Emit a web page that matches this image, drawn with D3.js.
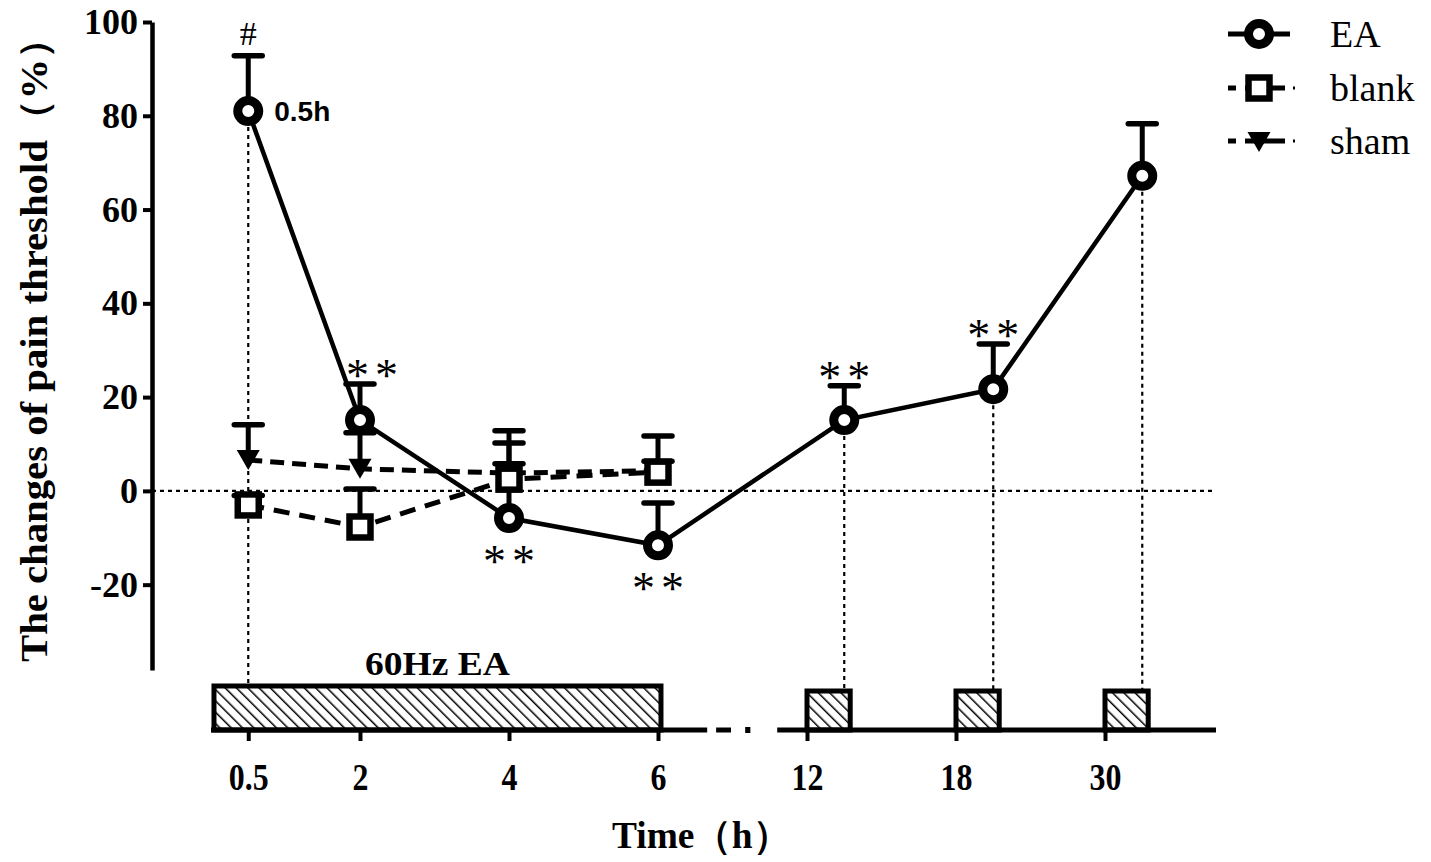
<!DOCTYPE html>
<html><head><meta charset="utf-8">
<script src="https://cdn.jsdelivr.net/npm/d3@7"></script>
<style>body{margin:0;background:#fff}svg{display:block}</style>
</head><body>
<svg id="c" width="1431" height="862"></svg>
<script>
// ---- data ----
const categories = ["0.5","2","4","6","12","18","30"];
const eaMean  = [81.0, 15.1, -5.8, -11.6, 15.1, 21.7, 67.2];
const eaErr   = [11.8,  7.7, 16.0,   9.0,  7.3,  9.6, 11.1];
const blankCats = ["0.5","2","4","6"];
const blankMean = [-3.0, -7.7, 2.5, 4.0];
const blankErr  = [ 2.0,  8.1, 10.3, 7.7];
const shamCats = ["0.5","2","4","6"];
const shamMean = [6.6, 4.7, 3.8, 4.3];
const shamErr  = [7.5, 7.7, 2.0, 2.0];
const yTicks = [-20, 0, 20, 40, 60, 80, 100];
const sigCats  = ["0.5","2","4","6","12","18"];
const sigText  = ["#","**","**","**","**","**"];
const sigBelow = [false,false,true,true,false,false];
const dropCats = ["0.5","12","18","30"];
const stimLabel = "60Hz EA";
const seriesNames = ["EA","blank","sham"];

// ---- scales ----
const svg = d3.select("#c");
const y = d3.scaleLinear().domain([-38.2, 100]).range([670, 22]);
const xs = d3.scaleLinear().domain([0, 6]).range([211, 1105]);
const late = ["12","18","30"];
const tickSlot = c => (+c <= 6 ? +c / 2 : 4 + late.indexOf(c));
const pointSlot = c => (+c <= 6 ? tickSlot(c) : tickSlot(c) + 0.25);
const px = c => xs(pointSlot(c));
const axisY = 730;
const serif = "'Liberation Serif','Times New Roman',serif";

// hatch pattern
const defs = svg.append("defs");
const pat = defs.append("pattern").attr("id","hatch").attr("patternUnits","userSpaceOnUse")
  .attr("width",8).attr("height",8).attr("patternTransform","rotate(-45)");
pat.append("rect").attr("width",8).attr("height",8).attr("fill","#fff");
pat.append("line").attr("x1",0).attr("y1",0).attr("x2",0).attr("y2",8)
  .attr("stroke","#000").attr("stroke-width",3);

// zero line
svg.append("line").attr("x1",152).attr("x2",1216).attr("y1",y(0)).attr("y2",y(0))
  .attr("stroke","#000").attr("stroke-width",2.2).attr("stroke-dasharray","4,4");

// drop lines
svg.selectAll(".drop").data(dropCats).join("line")
  .attr("x1",c=>px(c)).attr("x2",c=>px(c))
  .attr("y1",c=>y(eaMean[categories.indexOf(c)])).attr("y2",axisY)
  .attr("stroke","#000").attr("stroke-width",2.2).attr("stroke-dasharray","4,4");

// stimulation boxes
const stim = [[0.02,3.02],[4,4.29],[5,5.29],[6,6.29]];
svg.selectAll(".stim").data(stim).join("rect")
  .attr("x",d=>xs(d[0])).attr("width",d=>xs(d[1])-xs(d[0]))
  .attr("y",(d,i)=> i===0 ? 686 : 691).attr("height",(d,i)=> axisY-(i===0?686:691))
  .attr("fill","url(#hatch)").attr("stroke","#000").attr("stroke-width",5);
svg.append("text").attr("x",(xs(0)+xs(3))/2+3).attr("y",675).attr("text-anchor","middle")
  .attr("font-family",serif).attr("font-weight","bold").attr("font-size",33)
  .attr("textLength",145).attr("lengthAdjust","spacingAndGlyphs").text(stimLabel);

// x axis baseline with break
const base = svg.append("g").attr("stroke","#000").attr("stroke-width",5);
base.append("line").attr("x1",xs(0)).attr("x2",xs(3.33)).attr("y1",axisY).attr("y2",axisY);
base.append("line").attr("x1",xs(3.39)).attr("x2",xs(3.49)).attr("y1",axisY).attr("y2",axisY);
base.append("line").attr("x1",xs(3.585)).attr("x2",xs(3.62)).attr("y1",axisY).attr("y2",axisY).attr("stroke-width",6);
base.append("line").attr("x1",xs(3.8)).attr("x2",1216).attr("y1",axisY).attr("y2",axisY);

const xAxis = d3.axisBottom(xs).tickValues(categories.map(tickSlot))
  .tickFormat((d,i)=>categories[i]).tickSize(11).tickPadding(24);
const gx = svg.append("g").attr("transform",`translate(0,${axisY})`).call(xAxis);
gx.select(".domain").remove();
gx.selectAll("line").attr("stroke","#000").attr("stroke-width",4);
gx.selectAll("text").attr("font-family",serif).attr("font-weight","bold").attr("font-size",38)
  .attr("fill","#000").attr("transform","scale(0.84,1)").attr("dy","0.66em");

// y axis
const yAxis = d3.axisLeft(y).tickValues(yTicks).tickSize(9).tickSizeOuter(0).tickPadding(5)
  .tickFormat(d => String(d));
const gy = svg.append("g").attr("transform","translate(152,0)").call(yAxis);
gy.select(".domain").attr("stroke","#000").attr("stroke-width",4.5);
gy.selectAll(".tick line").attr("stroke","#000").attr("stroke-width",4);
gy.selectAll("text").attr("font-family",serif).attr("font-weight","bold").attr("font-size",36).attr("fill","#000");

// titles
svg.append("text").attr("transform","translate(47,340) rotate(-90)").attr("text-anchor","middle")
  .attr("font-family",serif).attr("font-weight","bold").attr("font-size",38)
  .attr("textLength",644).attr("lengthAdjust","spacingAndGlyphs")
  .text("The changes of pain threshold（%）");
svg.append("text").attr("x",701).attr("y",848).attr("text-anchor","middle")
  .attr("font-family",serif).attr("font-weight","bold").attr("font-size",38)
  .attr("textLength",178).attr("lengthAdjust","spacingAndGlyphs")
  .text("Time（h）");

// series lines
const line = d3.line().x(d=>px(d[0])).y(d=>y(d[1]));
svg.append("path").datum(shamCats.map((c,i)=>[c,shamMean[i]])).attr("d",line)
  .attr("fill","none").attr("stroke","#000").attr("stroke-width",5).attr("stroke-dasharray","14,8");
svg.append("path").datum(blankCats.map((c,i)=>[c,blankMean[i]])).attr("d",line)
  .attr("fill","none").attr("stroke","#000").attr("stroke-width",5).attr("stroke-dasharray","16,10");
svg.append("path").datum(categories.map((c,i)=>[c,eaMean[i]])).attr("d",line)
  .attr("fill","none").attr("stroke","#000").attr("stroke-width",4.5);

// error bars (upward)
function errBars(cats, mean, err){
  const g = svg.append("g").attr("stroke","#000");
  cats.forEach((c,i)=>{
    const x0 = px(c), yt = y(mean[i]+err[i]), ym = y(mean[i]);
    g.append("line").attr("x1",x0).attr("x2",x0).attr("y1",yt).attr("y2",ym).attr("stroke-width",5);
    g.append("line").attr("x1",x0-14).attr("x2",x0+14).attr("y1",yt).attr("y2",yt)
      .attr("stroke-width",5.5).attr("stroke-linecap","round");
  });
}
errBars(shamCats, shamMean, shamErr);
errBars(blankCats, blankMean, blankErr);
errBars(categories, eaMean, eaErr);

// markers
const tri = "M-11.5,-10 L11.5,-10 L0,10 Z";
svg.selectAll(".sham").data(shamCats).join("path")
  .attr("transform",(c,i)=>`translate(${px(c)},${y(shamMean[i])})`).attr("d",tri).attr("fill","#000");
svg.selectAll(".blank").data(blankCats).join("rect")
  .attr("x",c=>px(c)-10.5).attr("y",(c,i)=>y(blankMean[i])-10.5).attr("width",21).attr("height",21)
  .attr("fill","#fff").attr("stroke","#000").attr("stroke-width",6.5);
svg.selectAll(".ea").data(categories).join("circle")
  .attr("cx",c=>px(c)).attr("cy",(c,i)=>y(eaMean[i])).attr("r",10.5)
  .attr("fill","#fff").attr("stroke","#000").attr("stroke-width",9);

// significance marks
sigCats.forEach((c,k)=>{
  const i = categories.indexOf(c);
  const isHash = sigText[k] === "#";
  const yy = sigBelow[k] ? y(eaMean[i]) + 59 : y(eaMean[i]+eaErr[i]) + (isHash ? -11 : 7);
  svg.append("text").attr("x",px(c)+(c==="2"?12:0)+(isHash?0:3)).attr("y",yy).attr("text-anchor","middle")
    .attr("font-family",serif).attr("font-size",isHash?34:46).attr("letter-spacing",isHash?0:6)
    .attr("fill","#000").text(sigText[k]);
});
svg.append("text").attr("x",px("0.5")+26).attr("y",y(eaMean[0])+10)
  .attr("font-family","'Liberation Sans',Arial,sans-serif").attr("font-weight","bold").attr("font-size",28)
  .text("0.5h");

// legend
const lg = svg.append("g");
const ly = [34, 88, 141];
const lx = 1259;
lg.append("line").attr("x1",lx-31).attr("x2",lx+31).attr("y1",ly[0]).attr("y2",ly[0]).attr("stroke","#000").attr("stroke-width",5);
lg.append("circle").attr("cx",lx).attr("cy",ly[0]).attr("r",10.5).attr("fill","#fff").attr("stroke","#000").attr("stroke-width",9);
[1,2].forEach(k=>{
  lg.append("line").attr("x1",lx-31).attr("x2",lx-23).attr("y1",ly[k]).attr("y2",ly[k]).attr("stroke","#000").attr("stroke-width",5);
  lg.append("line").attr("x1",lx-14).attr("x2",lx+26).attr("y1",ly[k]).attr("y2",ly[k]).attr("stroke","#000").attr("stroke-width",5);
  lg.append("line").attr("x1",lx+34).attr("x2",lx+36).attr("y1",ly[k]).attr("y2",ly[k]).attr("stroke","#000").attr("stroke-width",3);
});
lg.append("rect").attr("x",lx-10.5).attr("y",ly[1]-10.5).attr("width",21).attr("height",21)
  .attr("fill","#fff").attr("stroke","#000").attr("stroke-width",6.5);
lg.append("path").attr("transform",`translate(${lx},${ly[2]+1})`).attr("d",tri).attr("fill","#000");
seriesNames.forEach((n,k)=>{
  lg.append("text").attr("x",1330).attr("y",ly[k]+13).attr("font-family",serif).attr("font-size",38).text(n);
});
</script>
</body></html>
